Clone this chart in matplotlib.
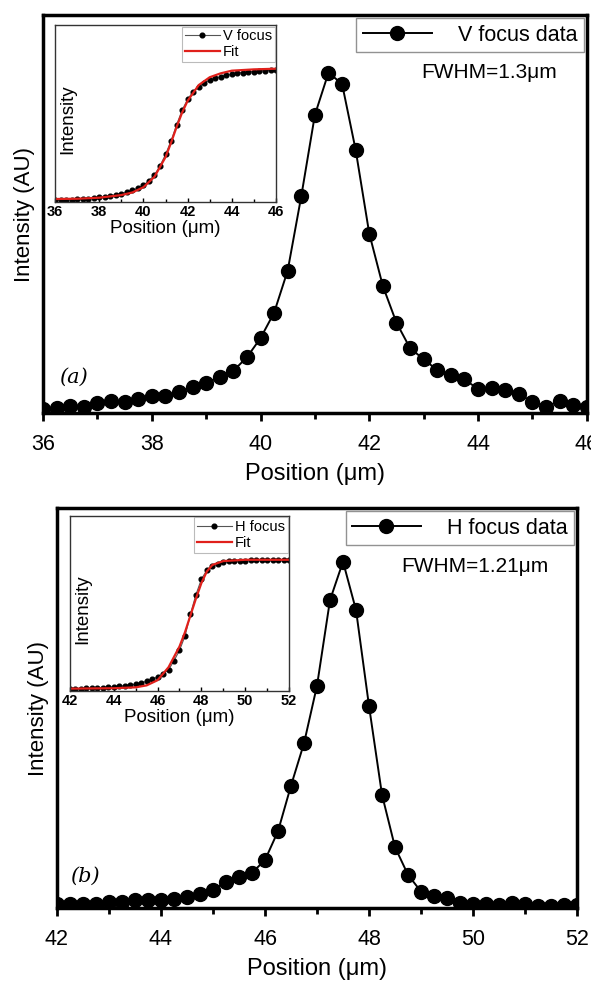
import matplotlib
matplotlib.use('Agg')
import matplotlib.pyplot as plt
import numpy as np
from matplotlib.ticker import MultipleLocator

plt.rcParams['font.family'] = ['Liberation Sans', 'DejaVu Sans']

# main peak data (V focus, panel a)
v_pos = np.arange(36, 46.01, 0.25)
v_int = [0.010, 0.013, 0.018, 0.016, 0.026, 0.030, 0.028, 0.034, 0.043, 0.043,
         0.052, 0.065, 0.075, 0.091, 0.106, 0.140, 0.188, 0.252, 0.358, 0.545,
         0.749, 0.855, 0.827, 0.661, 0.451, 0.319, 0.227, 0.163, 0.135, 0.108,
         0.095, 0.085, 0.060, 0.062, 0.058, 0.048, 0.028, 0.016, 0.030, 0.020,
         0.015]

# main peak data (H focus, panel b)
h_pos = np.arange(42, 52.01, 0.25)
h_int = [0.010, 0.010, 0.011, 0.011, 0.014, 0.016, 0.020, 0.020, 0.020, 0.022,
         0.028, 0.035, 0.045, 0.066, 0.078, 0.088, 0.120, 0.192, 0.306, 0.412,
         0.556, 0.770, 0.866, 0.745, 0.505, 0.283, 0.152, 0.083, 0.041, 0.030,
         0.024, 0.012, 0.010, 0.010, 0.008, 0.012, 0.010, 0.006, 0.006, 0.008,
         0.008]

# inset knife-edge scans
vi_int = [0.000, 0.002, 0.004, 0.006, 0.008, 0.010, 0.012, 0.017, 0.022, 0.027,
          0.035, 0.042, 0.052, 0.062, 0.075, 0.093, 0.116, 0.149, 0.194, 0.263,
          0.350, 0.454, 0.576, 0.688, 0.772, 0.830, 0.869, 0.897, 0.917, 0.932,
          0.945, 0.955, 0.963, 0.971, 0.976, 0.981, 0.983, 0.988, 0.991, 0.993,
          0.996]
vfit_pos = [36, 37, 38, 39, 39.5, 40, 40.5, 41, 41.25, 41.5, 41.75, 42, 42.5, 43, 43.5, 44, 45, 46]
vfit_int = [0.010, 0.012, 0.020, 0.040, 0.060, 0.100, 0.180, 0.330, 0.440, 0.560,
            0.670, 0.760, 0.880, 0.940, 0.970, 0.990, 1.000, 1.005]

hi_int = [0.000, 0.002, 0.004, 0.006, 0.008, 0.010, 0.012, 0.014, 0.018, 0.022,
          0.027, 0.033, 0.040, 0.050, 0.062, 0.078, 0.095, 0.118, 0.150, 0.220,
          0.300, 0.410, 0.580, 0.730, 0.850, 0.920, 0.950, 0.968, 0.980, 0.987,
          0.990, 0.992, 0.994, 0.995, 0.996, 0.996, 0.997, 0.997, 0.998, 0.998,
          0.998]
hfit_pos = [42, 44, 45, 45.5, 46, 46.5, 47, 47.25, 47.5, 47.75, 48, 48.25, 48.5, 49, 50, 52]
hfit_int = [0.005, 0.008, 0.015, 0.030, 0.070, 0.170, 0.330, 0.440, 0.570, 0.700,
            0.820, 0.910, 0.960, 0.990, 1.000, 1.000]

fig = plt.figure(figsize=(5.91, 9.81), dpi=100)


def main_panel(rect, x, y, xlim, label, fwhm, tag, tagxy):
    ax = fig.add_axes(rect)
    ax.plot(x, y, '-o', color='black', lw=1.4, ms=10, label=label)
    ax.set_xlim(*xlim)
    ax.set_ylim(0, 1)
    ax.set_yticks([])
    ax.xaxis.set_major_locator(MultipleLocator(2))
    ax.xaxis.set_minor_locator(MultipleLocator(1))
    ax.tick_params(axis='x', which='major', direction='out', length=6, width=2,
                   labelsize=15.5, pad=9)
    ax.tick_params(axis='x', which='minor', direction='out', length=4, width=2)
    for sp in ax.spines.values():
        sp.set_linewidth(2.5)
    ax.set_xlabel('Position (\u03bcm)', fontsize=17, labelpad=6)
    ax.set_ylabel('Intensity (AU)', fontsize=16, labelpad=6)
    leg = ax.legend(loc='upper right', fontsize=15.5, frameon=True, fancybox=False,
                    borderaxespad=0.15, handlelength=3.2, edgecolor='#777777',
                    borderpad=0.3, handletextpad=1.2)
    leg.get_frame().set_linewidth(1.0)
    ax.text(0.945, 0.855, fwhm, transform=ax.transAxes, ha='right', va='center',
            fontsize=15)
    ax.text(tagxy[0], tagxy[1], tag, transform=ax.transAxes, fontsize=15,
            family='DejaVu Serif', style='italic', ha='left', va='center')
    return ax


def inset_panel(rect, x, y, fx, fy, xlim, label):
    ax = fig.add_axes(rect)
    ax.plot(x, y, '-o', color='#555555', mfc='black', mec='black', lw=0.8, ms=3.4,
            label=label)
    ax.plot(fx, fy, '-', color='#e0201b', lw=1.6, label='Fit')
    ax.set_xlim(*xlim)
    ax.set_ylim(-0.0135, 1.338)
    ax.set_yticks([])
    ax.xaxis.set_major_locator(MultipleLocator(2))
    ax.xaxis.set_minor_locator(MultipleLocator(1))
    ax.tick_params(axis='x', which='major', direction='in', length=3, width=1,
                   labelsize=10.5, pad=2)
    ax.tick_params(axis='x', which='minor', direction='in', length=2, width=1)
    for t in ax.get_xticklabels():
        t.set_fontweight('bold')
    for sp in ax.spines.values():
        sp.set_linewidth(1.0)
        sp.set_color('#333333')
    ax.set_xlabel('Position (\u03bcm)', fontsize=13.5, labelpad=1)
    ax.text(0.02, 0.47, 'Intensity', transform=ax.transAxes, rotation=90,
            fontsize=13.5, ha='left', va='center')
    leg = ax.legend(loc='upper right', fontsize=10.5, frameon=True, fancybox=False,
                    borderaxespad=0.1, handlelength=2.4, edgecolor='#aaaaaa',
                    borderpad=0.2, labelspacing=0.1, handletextpad=0.2)
    leg.get_frame().set_linewidth(0.8)
    return ax


main_panel([0.0728, 0.579, 0.920, 0.4057], v_pos, v_int, (36, 46),
           'V focus data', 'FWHM=1.3\u03bcm', '(a)', (0.03, 0.09))
inset_panel([0.0931, 0.794, 0.374, 0.1804], v_pos, vi_int, vfit_pos, vfit_int,
            (36, 46), 'V focus')

main_panel([0.0964, 0.0744, 0.880, 0.4077], h_pos, h_int, (42, 52),
           'H focus data', 'FWHM=1.21\u03bcm', '(b)', (0.025, 0.08))
inset_panel([0.1184, 0.2956, 0.3706, 0.1784], h_pos, hi_int, hfit_pos, hfit_int,
            (42, 52), 'H focus')

fig.savefig('out.png', dpi=100)
